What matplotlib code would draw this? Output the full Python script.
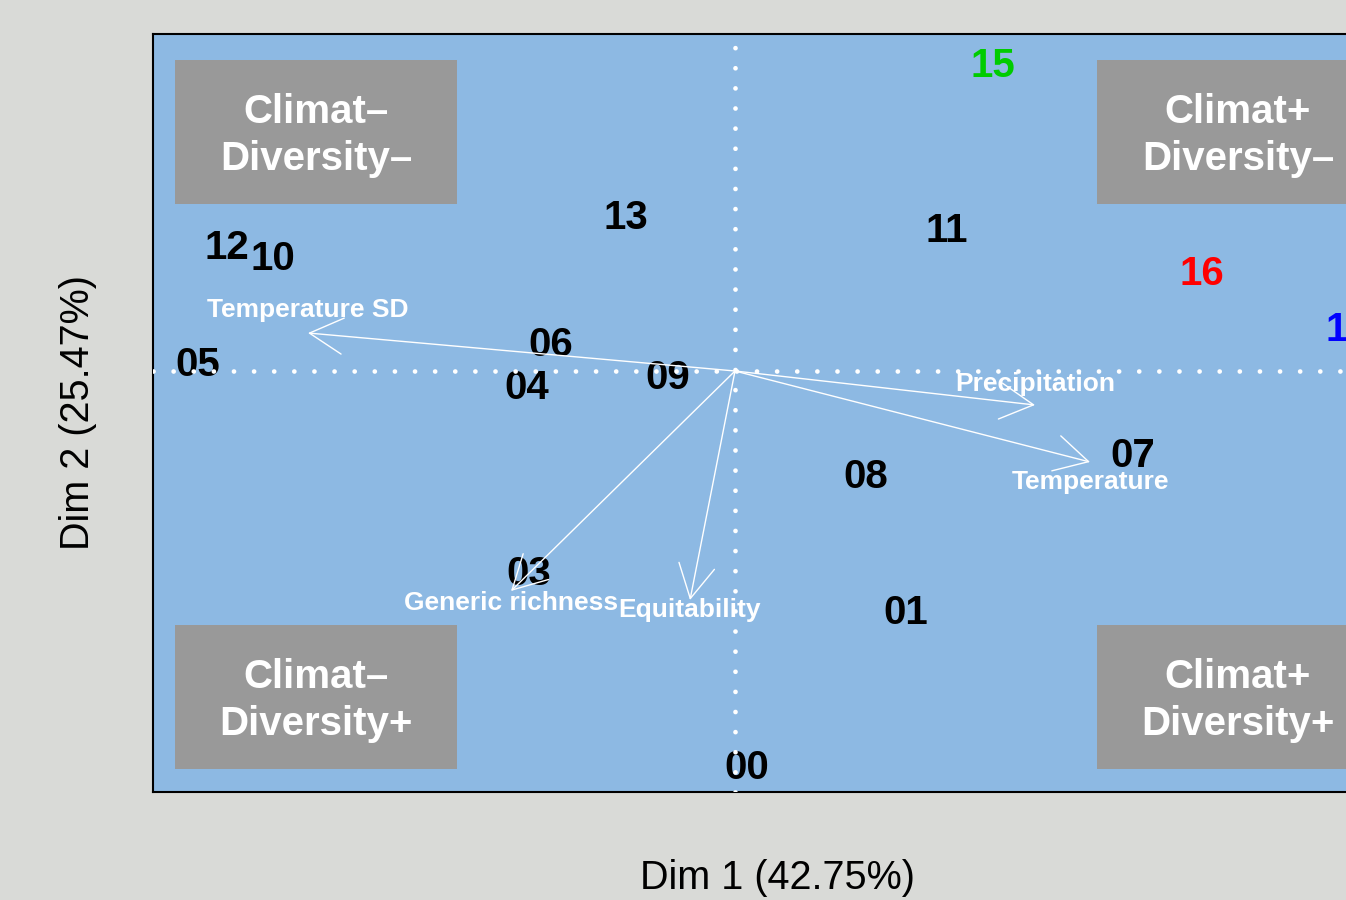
import matplotlib
matplotlib.use("Agg")
from matplotlib import pyplot as plt
from matplotlib.patches import Rectangle

plt.rcParams['font.family'] = ['Liberation Sans', 'DejaVu Sans']

# site scores (Dim 1, Dim 2)
sites = ["00", "01", "03", "04", "05", "06", "07", "08", "09",
         "10", "11", "12", "13", "14", "15", "16"]
dim1 = [0.12, 1.71, -2.06, -2.08, -5.37, -1.84, 3.98, 1.31, -0.67,
        -4.62, 2.12, -5.08, -1.09, 6.13, 2.58, 4.67]
dim2 = [-3.93, -2.38, -1.99, -0.13, 0.10, 0.30, -0.81, -1.02, -0.03,
        1.16, 1.44, 1.27, 1.57, 0.45, 3.09, 1.01]
site_colors = {"14": "#0000ff", "15": "#00cc00", "16": "#ff0000"}

# variable loadings
variables = ["Temperature SD", "Precipitation", "Temperature", "Generic richness", "Equitability"]
var_x = [-4.27, 3.00, 3.55, -2.24, -0.45]
var_y = [0.38, -0.34, -0.91, -2.20, -2.29]
label_dy = [0.23, 0.21, -0.20, -0.12, -0.10]

quadrants = ["Climat\u2013\nDiversity\u2013", "Climat+\nDiversity\u2013",
             "Climat\u2013\nDiversity+", "Climat+\nDiversity+"]

blue = "#8db9e3"
fig = plt.figure(figsize=(13.46, 9), dpi=100, facecolor="#d9dad7")
ax = fig.add_axes([153 / 1346, 108 / 900, 1248 / 1346, 758 / 900])
ax.set_facecolor(blue)
ax.set_xlim(-5.82, 6.66)
ax.set_ylim(-4.21, 3.37)
ax.set_xticks([])
ax.set_yticks([])
for s in ax.spines.values():
    s.set_linewidth(1.5)

# quadrant boxes
box_x = [0.0176, 0.7564]
box_y = [0.7757, 0.0303]
k = 0
for by in box_y:
    for bx in box_x:
        ax.add_patch(Rectangle((bx, by), 0.226, 0.19, transform=ax.transAxes,
                               facecolor="#999999", edgecolor="none", zorder=1))
        ax.text(bx + 0.113, by + 0.091, quadrants[k], transform=ax.transAxes,
                ha="center", va="center", color="white", fontsize=29,
                fontweight="bold", linespacing=1.3, zorder=2)
        k += 1

for name, x, y in zip(sites, dim1, dim2):
    ax.text(x, y, name, ha="center", va="center_baseline", fontsize=29,
            fontweight="bold", color=site_colors.get(name, "black"),
            zorder=3, clip_on=False)

for name, x, y, dy in zip(variables, var_x, var_y, label_dy):
    ax.annotate("", xy=(x, y), xytext=(0, 0),
                arrowprops=dict(arrowstyle="->,head_length=2.4,head_width=1.3",
                                mutation_scale=10, color="white", lw=1,
                                shrinkA=0, shrinkB=0), zorder=4)
    ax.text(x, y + dy, name, ha="center", va="center", fontsize=19,
            fontweight="bold", color="white", zorder=4)

ax.axhline(0, color="white", lw=3.4, linestyle=(0, (0.01, 4.25)),
           dash_capstyle="round", zorder=5)
ax.axvline(0, color="white", lw=3.4, linestyle=(0, (0.01, 4.25)),
           dash_capstyle="round", zorder=5)

ax.set_xlabel("Dim 1 (42.75%)", fontsize=28.5, labelpad=48)
ax.set_ylabel("Dim 2 (25.47%)", fontsize=28.5, labelpad=40)

fig.savefig("out.png", dpi=100, facecolor=fig.get_facecolor())
